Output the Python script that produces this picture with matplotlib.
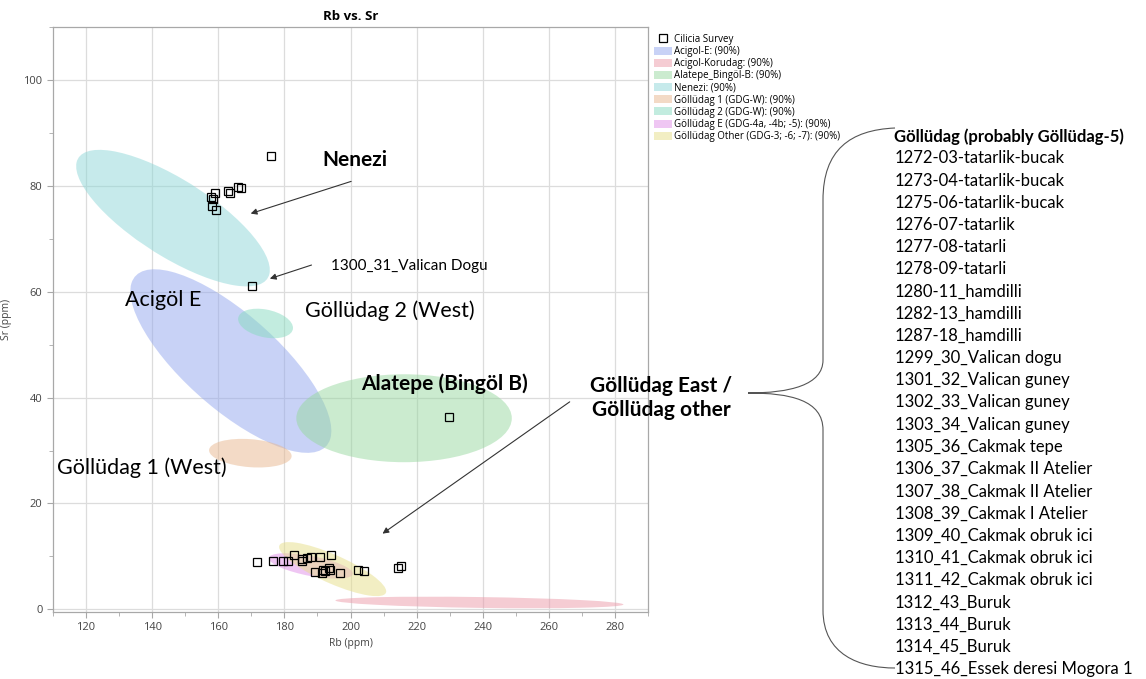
import numpy as np
import matplotlib
matplotlib.use("Agg")
import matplotlib.pyplot as plt
from matplotlib.patches import Ellipse, Patch, PathPatch
from matplotlib.lines import Line2D
from matplotlib.path import Path

# Cilicia survey samples (Rb, Sr in ppm)
rb = [176.0, 157.7, 158.4, 159.0, 158.1, 159.4, 162.9, 163.4, 166.0, 166.9, 170.1,
      229.7,
      171.8, 176.6, 179.7, 181.1, 182.9, 185.2, 185.2, 186.7, 188.0, 189.3, 190.9,
      191.3, 191.6, 192.4, 193.5, 193.7, 194.2, 196.9, 202.4, 204.1, 214.4, 215.2]
sr = [85.7, 77.9, 77.5, 78.6, 76.2, 75.5, 79.0, 78.6, 79.7, 79.5, 61.1,
      36.4,
      8.9, 9.2, 9.2, 9.1, 10.2, 9.6, 9.1, 9.7, 9.9, 7.1, 9.8,
      6.8, 7.4, 7.3, 7.9, 7.4, 10.3, 6.8, 7.4, 7.2, 7.9, 8.1]

# geological sources: mean, standard deviation, correlation
sources = ["Acigol-E: (90%)", "Acigol-Korudag: (90%)", "Alatepe_Bingöl-B: (90%)",
           "Nenezi: (90%)", "Göllüdag 1 (GDG-W): (90%)", "Göllüdag 2 (GDG-W): (90%)",
           "Göllüdag E (GDG-4a, -4b; -5): (90%)", "Göllüdag Other (GDG-3; -6; -7): (90%)"]
src_rb_mean = [163.8, 239.0, 216.2, 146.3, 169.7, 174.3, 188.0, 194.6]
src_sr_mean = [46.9, 1.3, 36.1, 73.9, 29.5, 54.0, 8.2, 7.6]
src_rb_sd = [14.17, 20.3, 15.19, 13.65, 5.82, 3.87, 5.92, 7.55]
src_sr_sd = [8.08, 0.51, 3.87, 6.01, 1.26, 1.30, 1.12, 2.38]
src_rho = [-0.76, -0.35, 0.0, -0.76, -0.2, -0.3, -0.6, -0.82]
src_colors = ["#93a7ee", "#ec9aa9", "#98d8a0", "#8ed7d8", "#e8b78f", "#87dbc0",
              "#e08fe8", "#e7df89"]

goll_samples = ["1272-03-tatarlik-bucak", "1273-04-tatarlik-bucak", "1275-06-tatarlik-bucak",
                "1276-07-tatarlik", "1277-08-tatarli", "1278-09-tatarli", "1280-11_hamdilli",
                "1282-13_hamdilli", "1287-18_hamdilli", "1299_30_Valican dogu",
                "1301_32_Valican guney", "1302_33_Valican guney", "1303_34_Valican guney",
                "1305_36_Cakmak tepe", "1306_37_Cakmak II Atelier", "1307_38_Cakmak II Atelier",
                "1308_39_Cakmak I Atelier", "1309_40_Cakmak obruk ici", "1310_41_Cakmak obruk ici",
                "1311_42_Cakmak obruk ici", "1312_43_Buruk", "1313_44_Buruk", "1314_45_Buruk",
                "1315_46_Essek deresi Mogora 1"]

CHI2_90 = 4.605
ui_font = "Open Sans"
note_font = "Lato"

fig = plt.figure(figsize=(11.46, 6.79), dpi=100)
ax = fig.add_axes([53 / 1146, 1 - 612 / 679, 595 / 1146, 585 / 679])

handles = [Line2D([], [], ls="none", marker="s", mfc="none", mec="black", ms=5.5, mew=0.9)]
for i, name in enumerate(sources):
    cov = np.array([[src_rb_sd[i] ** 2, src_rho[i] * src_rb_sd[i] * src_sr_sd[i]],
                    [src_rho[i] * src_rb_sd[i] * src_sr_sd[i], src_sr_sd[i] ** 2]])
    vals, vecs = np.linalg.eigh(cov)
    ang = np.degrees(np.arctan2(vecs[1, 1], vecs[0, 1]))
    w = 2 * np.sqrt(CHI2_90 * vals[1])
    h = 2 * np.sqrt(CHI2_90 * vals[0])
    ax.add_patch(Ellipse((src_rb_mean[i], src_sr_mean[i]), w, h, angle=ang,
                         facecolor=src_colors[i], alpha=0.5, edgecolor="none", zorder=2))
    handles.append(Patch(facecolor=src_colors[i], alpha=0.5, edgecolor="none"))

ax.plot(rb, sr, ls="none", marker="s", mfc="none", mec="black", ms=5.5, mew=0.9, zorder=4)

ax.set_xlim(110, 290)
ax.set_ylim(-0.5, 110)
ax.set_xticks(np.arange(120, 281, 20))
ax.set_xticks(np.arange(110, 291, 10), minor=True)
ax.set_yticks(np.arange(0, 101, 20))
ax.set_yticks(np.arange(0, 111, 10), minor=True)
ax.grid(True, which="major", color="#dcdcdc", lw=0.9, zorder=0)
ax.set_axisbelow(True)
for s in ax.spines.values():
    s.set_color("#a8a8a8")
    s.set_linewidth(0.9)
ax.tick_params(which="both", direction="out", color="#a8a8a8", labelcolor="#444444",
               labelsize=8)
ax.tick_params(which="major", length=4)
ax.tick_params(which="minor", length=3)
for lab in ax.get_xticklabels() + ax.get_yticklabels():
    lab.set_family(ui_font)
ax.set_xlabel("Rb (ppm)", fontsize=7.5, family=ui_font, color="#444444", labelpad=3)
ax.set_ylabel("Sr (ppm)", fontsize=7.5, family=ui_font, color="#444444", labelpad=8)
ax.set_title("Rb vs. Sr", fontsize=9.5, family=ui_font, fontweight="bold", pad=5)

ax.legend(handles, ["Cilicia Survey"] + sources, loc="upper left",
          bbox_to_anchor=(1.003, 0.995), frameon=False,
          prop={"family": ui_font, "size": 7}, handlelength=1.9, handleheight=0.9,
          handletextpad=0.15, labelspacing=0.12, borderaxespad=0)

# annotations on the plot
ax.text(201.2, 84.9, "Nenezi", family=note_font, fontsize=15, fontweight="bold",
        ha="center", va="center")
ax.annotate("", xy=(169.0, 74.6), xytext=(201.0, 81.0),
            arrowprops=dict(arrowstyle="-|>", color="#333333", lw=0.8, mutation_scale=9))
ax.text(194.0, 64.8, "1300_31_Valican Dogu", family=note_font, fontsize=11,
        ha="left", va="center")
ax.annotate("", xy=(174.8, 62.3), xytext=(189.0, 65.2),
            arrowprops=dict(arrowstyle="-|>", color="#333333", lw=0.8, mutation_scale=9))
ax.text(143.2, 58.4, "Acigöl E", family=note_font, fontsize=15.5, ha="center", va="center")
ax.text(211.8, 56.5, "Göllüdag 2 (West)", family=note_font, fontsize=15.5,
        ha="center", va="center")
ax.text(228.5, 42.7, "Alatepe (Bingöl B)", family=note_font, fontsize=15,
        fontweight="bold", ha="center", va="center")
ax.text(136.8, 26.8, "Göllüdag 1 (West)", family=note_font, fontsize=15.5,
        ha="center", va="center")
ax.text(293.9, 40.0, "Göllüdag East /\nGöllüdag other", family=note_font, fontsize=15,
        fontweight="bold", ha="center", va="center", linespacing=1.25, clip_on=False)
ax.annotate("", xy=(209.0, 14.0), xytext=(267.0, 39.5),
            arrowprops=dict(arrowstyle="-|>", color="#333333", lw=0.8, mutation_scale=9))

# overlay in pixel units for the bracket and sample list
ov = fig.add_axes([0, 0, 1, 1], facecolor="none")
ov.set_xlim(0, 1146)
ov.set_ylim(679, 0)
ov.axis("off")

verts = [(895, 128), (850, 130), (823, 150), (823, 200),
         (823, 340), (823, 340), (823, 360),
         (823, 385), (790, 393), (748, 393),
         (790, 393), (823, 400), (823, 430),
         (823, 600), (823, 600), (823, 610),
         (823, 655), (860, 668), (895, 668)]
codes = [Path.MOVETO] + [Path.CURVE4] * (len(verts) - 1)
ov.add_patch(PathPatch(Path(verts, codes), facecolor="none", edgecolor="#555555", lw=0.8))

ov.text(894, 137, "Göllüdag (probably Göllüdag-5)", family=note_font, fontsize=12,
        fontweight="bold", ha="left", va="center")
for i, s in enumerate(goll_samples):
    ov.text(895, 158.3 + 22.2 * i, s, family=note_font, fontsize=12, ha="left", va="center")

fig.savefig("out.png", dpi=100)
